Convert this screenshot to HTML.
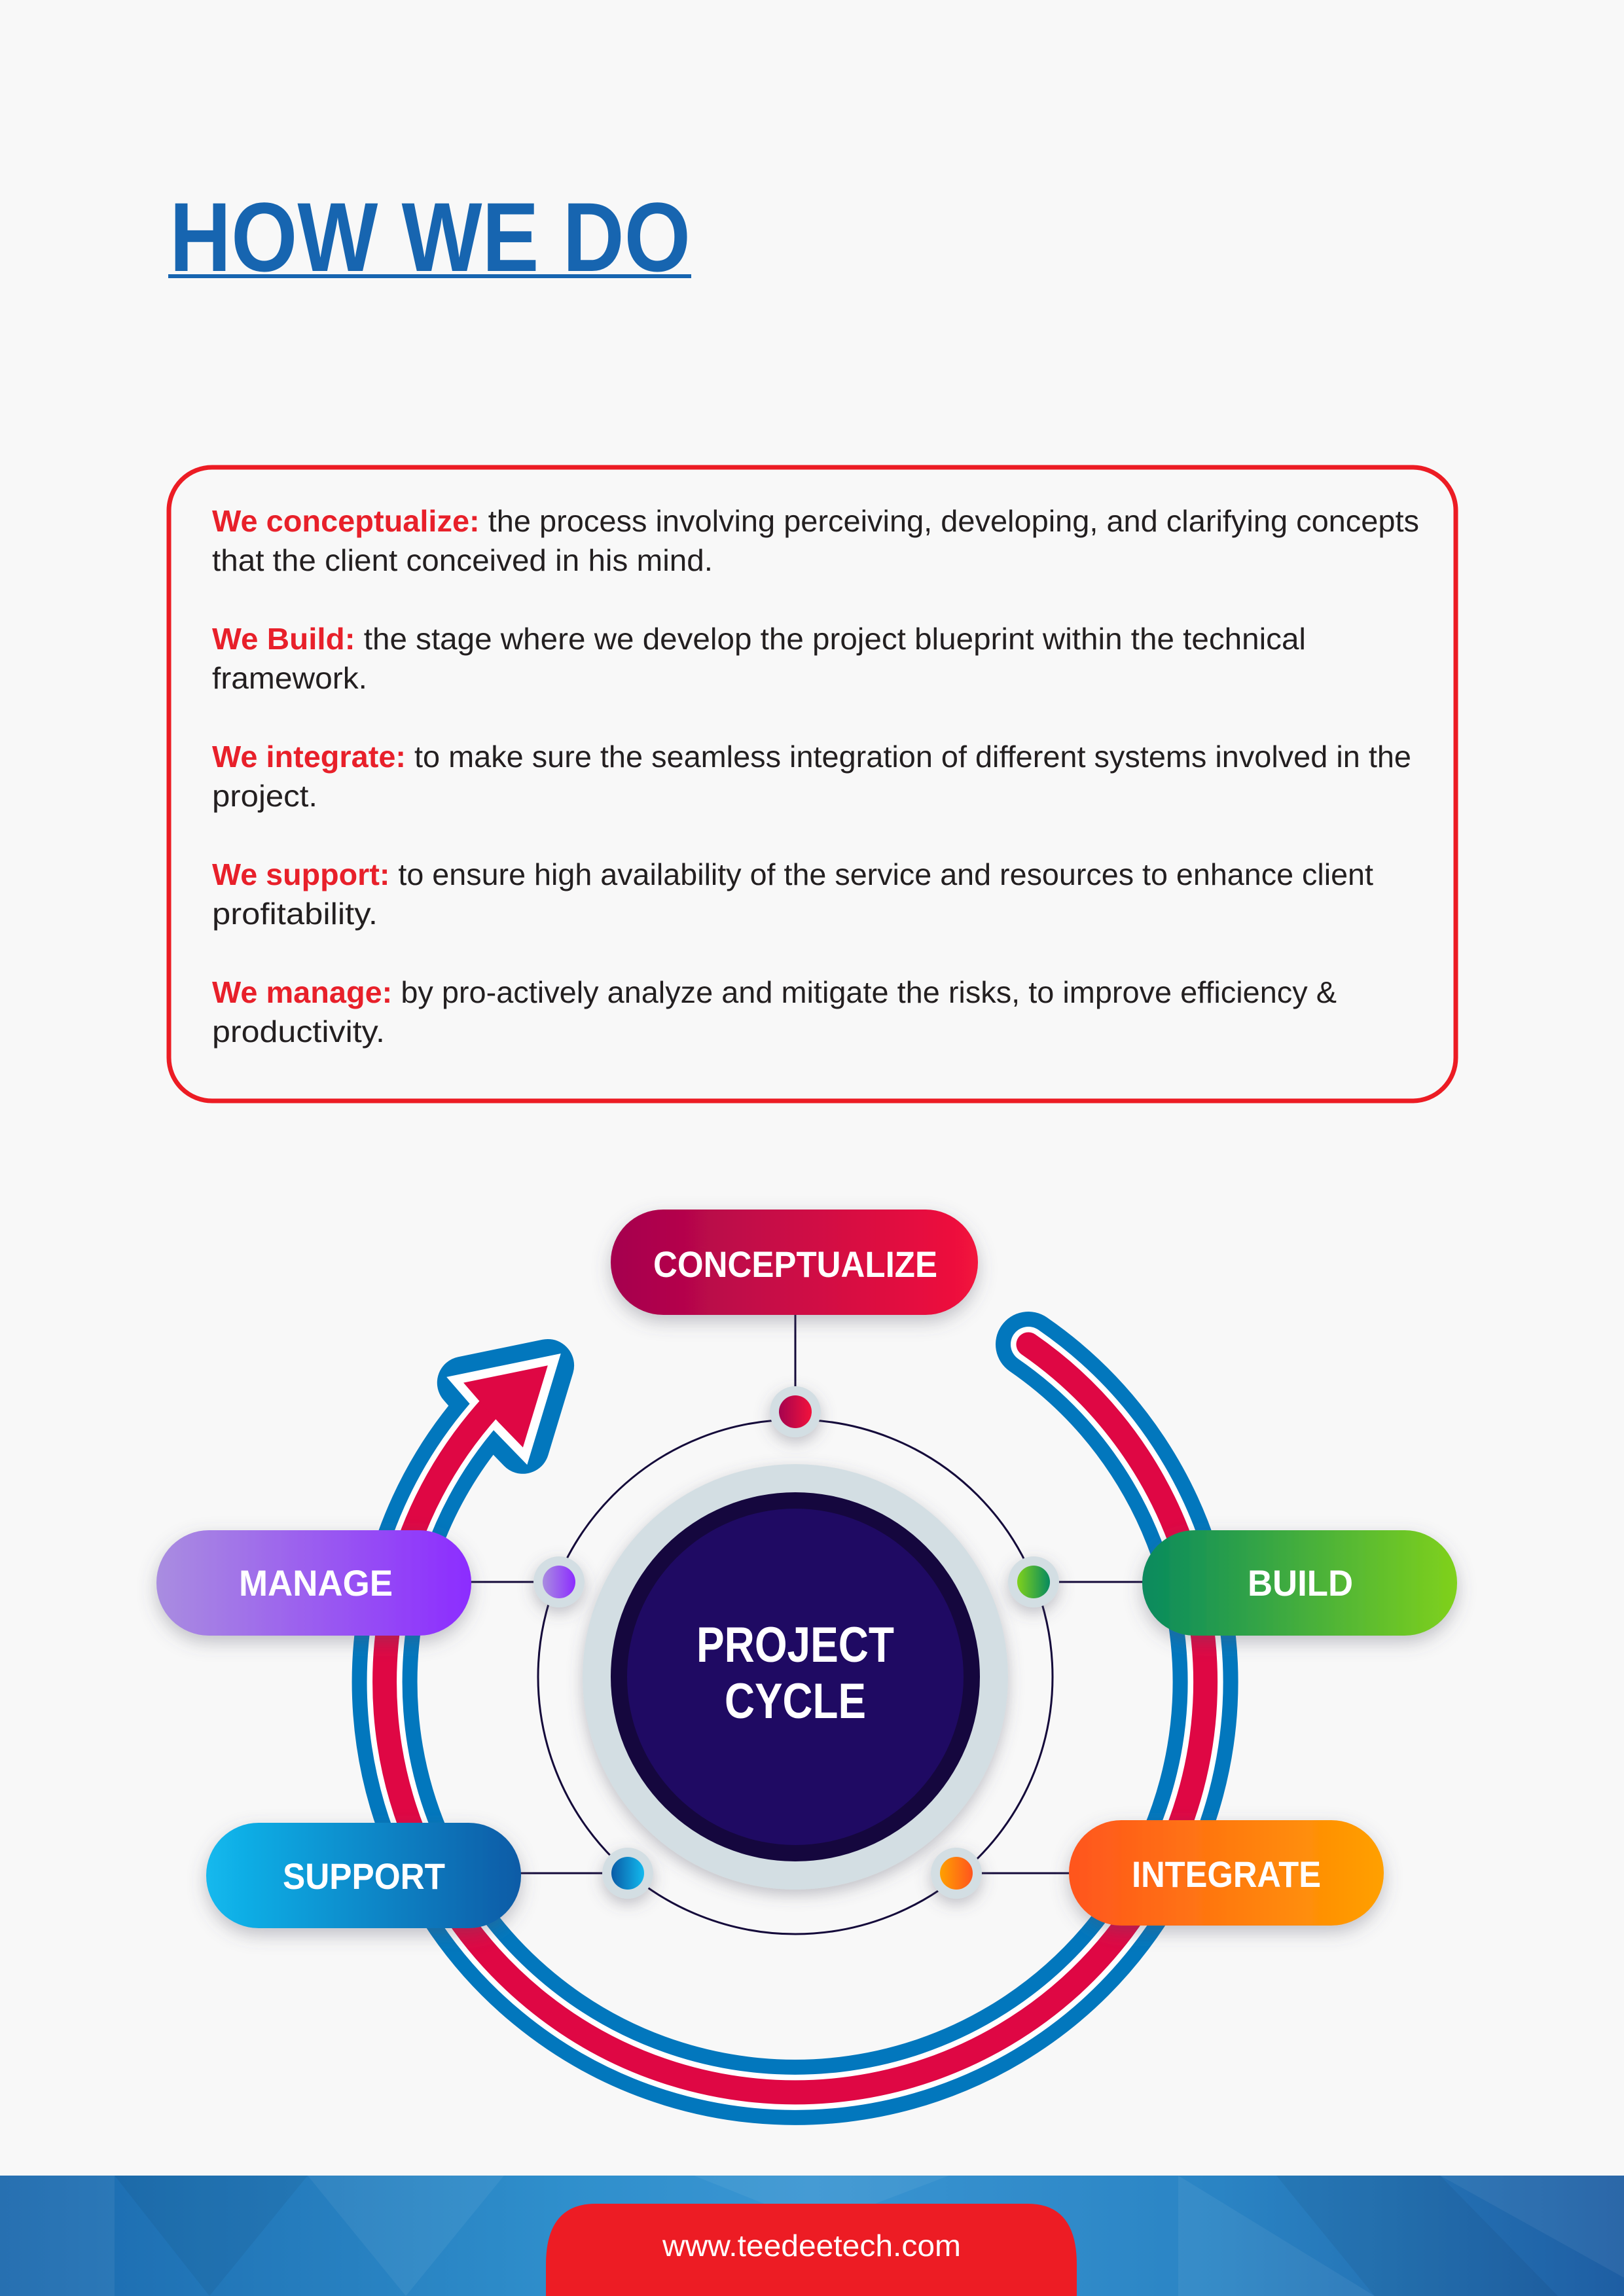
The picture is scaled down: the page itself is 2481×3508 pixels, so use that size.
<!DOCTYPE html>
<html><head><meta charset="utf-8"><style>
html,body{margin:0;padding:0;background:#f8f8f8;}
svg{display:block;}
text{font-family:"Liberation Sans",sans-serif;}
</style></head><body>
<svg width="2481" height="3508" viewBox="0 0 2481 3508" xmlns="http://www.w3.org/2000/svg">
<defs>
<linearGradient id="gC" x1="0" x2="1"><stop offset="0" stop-color="#a5034f"/><stop offset="1" stop-color="#f2123c"/></linearGradient>
<linearGradient id="gB" x1="0" x2="1"><stop offset="0" stop-color="#078a5e"/><stop offset="1" stop-color="#80d11c"/></linearGradient>
<linearGradient id="gM" x1="0" x2="1"><stop offset="0" stop-color="#a98de0"/><stop offset="1" stop-color="#8c2cff"/></linearGradient>
<linearGradient id="gS" x1="0" x2="1"><stop offset="0" stop-color="#12b9ee"/><stop offset="1" stop-color="#0a5ba6"/></linearGradient>
<linearGradient id="gI" x1="0" x2="1"><stop offset="0" stop-color="#ff551e"/><stop offset="1" stop-color="#ffa000"/></linearGradient>
<linearGradient id="gF" x1="0" x2="1"><stop offset="0" stop-color="#1a68ad"/><stop offset="0.35" stop-color="#2f8fcc"/><stop offset="0.5" stop-color="#3a95d2"/><stop offset="0.75" stop-color="#2a84c4"/><stop offset="1" stop-color="#1e5ea3"/></linearGradient>
<filter id="sh" x="-20%" y="-30%" width="140%" height="170%"><feDropShadow dx="0" dy="10" stdDeviation="14" flood-color="#556" flood-opacity="0.35"/></filter>
<filter id="sh2" x="-20%" y="-20%" width="140%" height="140%"><feDropShadow dx="0" dy="8" stdDeviation="12" flood-color="#556" flood-opacity="0.35"/></filter>
</defs>

<text x="259" y="414" font-size="150" font-weight="bold" fill="#1765b0" textLength="796" lengthAdjust="spacingAndGlyphs">HOW WE DO</text>
<rect x="257" y="419" width="799" height="6" fill="#1765b0"/>

<rect x="258" y="714" width="1966" height="968" rx="66" fill="#f8f8f8" stroke="#ec1c24" stroke-width="7"/>
<g font-size="46" fill="#231f20">
<text x="324" y="812" textLength="1844" lengthAdjust="spacingAndGlyphs"><tspan fill="#e8202a" font-weight="bold">We conceptualize:</tspan> the process involving perceiving, developing, and clarifying concepts</text>
<text x="324" y="872" textLength="765" lengthAdjust="spacingAndGlyphs">that the client conceived in his mind.</text>
<text x="324" y="992" textLength="1671" lengthAdjust="spacingAndGlyphs"><tspan fill="#e8202a" font-weight="bold">We Build:</tspan> the stage where we develop the project blueprint within the technical</text>
<text x="324" y="1052" textLength="237" lengthAdjust="spacingAndGlyphs">framework.</text>
<text x="324" y="1172" textLength="1832" lengthAdjust="spacingAndGlyphs"><tspan fill="#e8202a" font-weight="bold">We integrate:</tspan> to make sure the seamless integration of different systems involved in the</text>
<text x="324" y="1232" textLength="161" lengthAdjust="spacingAndGlyphs">project.</text>
<text x="324" y="1352" textLength="1774" lengthAdjust="spacingAndGlyphs"><tspan fill="#e8202a" font-weight="bold">We support:</tspan> to ensure high availability of the service and resources to enhance client</text>
<text x="324" y="1412" textLength="253" lengthAdjust="spacingAndGlyphs">profitability.</text>
<text x="324" y="1532" textLength="1718" lengthAdjust="spacingAndGlyphs"><tspan fill="#e8202a" font-weight="bold">We manage:</tspan> by pro-actively analyze and mitigate the risks, to improve efficiency &amp;</text>
<text x="324" y="1592" textLength="264" lengthAdjust="spacingAndGlyphs">productivity.</text>
</g>

<!-- Big arc with arrow -->
<g id="arrowpoly" transform="translate(769 2146) scale(1.15) translate(-769 -2146)">
</g>
<path d="M1571 2054 A627 627 0 1 1 748 2151" fill="none" stroke="#0277bd" stroke-width="100" stroke-linecap="round"/>
<polygon transform="translate(769 2146) scale(1.15) translate(-769 -2146)" points="716,2117 828,2094 795,2203 763,2170 742,2147" fill="#0277bd" stroke="#0277bd" stroke-width="70" stroke-linejoin="round"/>
<path d="M1571 2054 A627 627 0 1 1 748 2151" fill="none" stroke="#ffffff" stroke-width="54" stroke-linecap="round"/>
<polygon transform="translate(769 2146) scale(1.15) translate(-769 -2146)" points="716,2117 828,2094 795,2203 763,2170 742,2147" fill="#ffffff" stroke="#ffffff" stroke-width="24" stroke-linejoin="miter"/>
<path d="M1571 2054 A627 627 0 1 1 748 2151" fill="none" stroke="#df0744" stroke-width="37" stroke-linecap="round"/>
<polygon transform="translate(769 2146) scale(1.15) translate(-769 -2146)" points="716,2117 828,2094 795,2203 763,2170 742,2147" fill="#df0744"/>

<g stroke="#140a3a" stroke-width="3" fill="none">
<circle cx="1215" cy="2562" r="393"/>
<line x1="1215" y1="2005" x2="1215" y2="2157"/>
<line x1="700" y1="2417" x2="854" y2="2417"/>
<line x1="1579" y1="2417" x2="1760" y2="2417"/>
<line x1="780" y1="2862" x2="959" y2="2862"/>
<line x1="1461" y1="2862" x2="1650" y2="2862"/>
</g>

<circle cx="1215" cy="2562" r="325" fill="#d3dee3" filter="url(#sh2)"/>
<circle cx="1215" cy="2562" r="282" fill="#15073e"/>
<circle cx="1215" cy="2562" r="257" fill="#1f0a63"/>
<text x="1215" y="2539" font-size="76" font-weight="bold" fill="#fff" text-anchor="middle" textLength="302" lengthAdjust="spacingAndGlyphs">PROJECT</text>
<text x="1215" y="2625" font-size="76" font-weight="bold" fill="#fff" text-anchor="middle" textLength="216" lengthAdjust="spacingAndGlyphs">CYCLE</text>

<g filter="url(#sh2)" fill="#d3dee3">
<circle cx="1215" cy="2157" r="39"/>
<circle cx="854" cy="2417" r="39"/>
<circle cx="1579" cy="2417" r="39"/>
<circle cx="959" cy="2862" r="39"/>
<circle cx="1461" cy="2862" r="39"/>
</g>
<circle cx="1215" cy="2157" r="25" fill="url(#gC)"/>
<circle cx="854" cy="2417" r="25" fill="url(#gM)"/>
<circle cx="1579" cy="2417" r="25" fill="url(#gB)" transform="rotate(180 1579 2417)"/>
<circle cx="959" cy="2862" r="25" fill="url(#gS)" transform="rotate(180 959 2862)"/>
<circle cx="1461" cy="2862" r="25" fill="url(#gI)" transform="rotate(180 1461 2862)"/>

<g filter="url(#sh)">
<rect x="933" y="1848" width="561" height="161" rx="80" fill="url(#gC)"/>
<rect x="1745" y="2338" width="481" height="161" rx="80" fill="url(#gB)"/>
<rect x="239" y="2338" width="481" height="161" rx="80" fill="url(#gM)"/>
<rect x="315" y="2785" width="481" height="161" rx="80" fill="url(#gS)"/>
<rect x="1633" y="2781" width="481" height="161" rx="80" fill="url(#gI)"/>
</g>
<g font-size="56" font-weight="bold" fill="#fff">
<text x="998" y="1951" textLength="434" lengthAdjust="spacingAndGlyphs">CONCEPTUALIZE</text>
<text x="1906" y="2438" textLength="161" lengthAdjust="spacingAndGlyphs">BUILD</text>
<text x="365" y="2438" textLength="235" lengthAdjust="spacingAndGlyphs">MANAGE</text>
<text x="432" y="2886" textLength="248" lengthAdjust="spacingAndGlyphs">SUPPORT</text>
<text x="1729" y="2883" textLength="289" lengthAdjust="spacingAndGlyphs">INTEGRATE</text>
</g>

<rect x="0" y="3324" width="2481" height="184" fill="url(#gF)"/>
<g fill="#ffffff" opacity="0.06">
<polygon points="0,3324 175,3324 175,3508 0,3508"/>
<polygon points="470,3324 770,3324 620,3508"/>
<polygon points="1060,3324 1450,3324 1250,3400"/>
<polygon points="1800,3324 2100,3508 1800,3508"/>
<polygon points="2200,3324 2481,3324 2481,3480"/>
</g>
<g fill="#000" opacity="0.05">
<polygon points="175,3324 470,3324 320,3508"/>
<polygon points="1950,3324 2200,3324 2380,3508 2100,3508"/>
</g>
<path d="M834 3508 L834 3460 Q834 3367 910 3367 L1570 3367 Q1645 3367 1645 3460 L1645 3508 Z" fill="#ed1c24"/>
<text x="1240" y="3447" font-size="46" fill="#fff" text-anchor="middle" textLength="456" lengthAdjust="spacingAndGlyphs">www.teedeetech.com</text>
</svg>
</body></html>
